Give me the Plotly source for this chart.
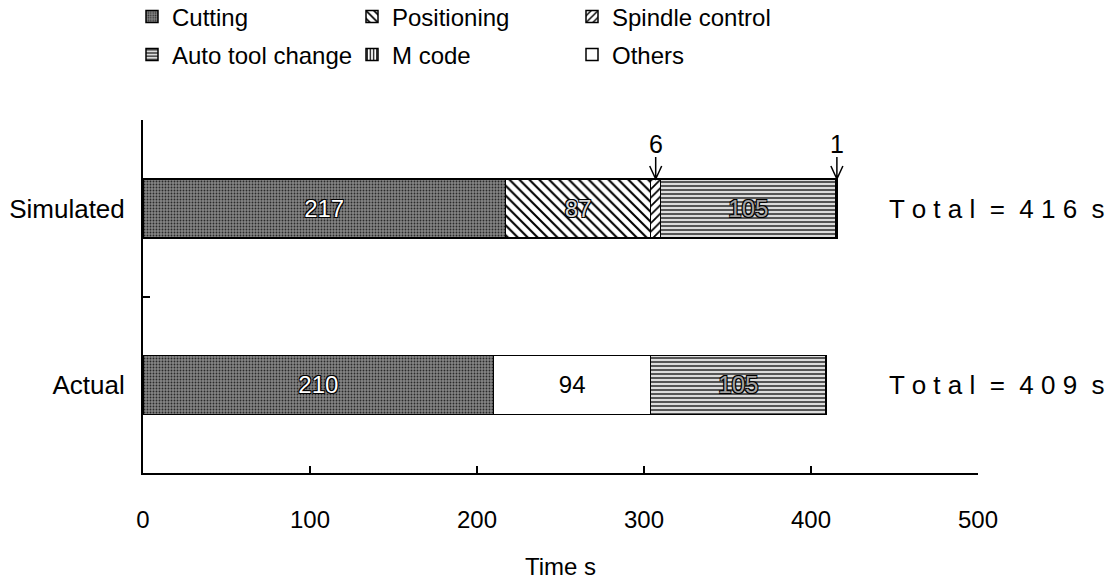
import plotly.graph_objects as go

# Machining time breakdown (seconds) for the simulated and the measured run
cases = ["Actual", "Simulated"]
cutting = [210, 217]
positioning = [0, 87]
spindle_control = [0, 6]
others = [94, 0]
auto_tool_change = [105, 105]
m_code = [0, 1]

FONT = "Liberation Sans, Arial, Helvetica, sans-serif"
BAR_W = 0.335
OUTLINE = dict(color="black", width=1.5)

halo_dark = "1px 1px 0 #000, -1px -1px 0 #000, 1px -1px 0 #000, -1px 1px 0 #000"


def labels(vals, hide=False):
    return ["" if (v == 0 or hide) else str(v) for v in vals]


series = [
    # name, values, bg, fg, shape, size, solidity, text color, text shadow, legend, show text
    ("Cutting", cutting, "#858585", "#2a2a2a", ".", 3, 0.3, "white", halo_dark, "legend", True),
    ("Positioning", positioning, "white", "black", "\\", 7, 0.3, "#d8d8d8", halo_dark, "legend", True),
    ("Spindle control", spindle_control, "white", "black", "/", 6, 0.3, "black", "none", "legend", False),
    ("Others", others, "white", "black", "", 8, 0.3, "black", "none", "legend2", True),
    ("Auto tool change", auto_tool_change, "#dcdcdc", "#555555", "-", 4, 0.5, "#a0a0a0", halo_dark, "legend2", True),
    ("M code", m_code, "white", "black", "|", 4, 0.4, "black", "none", "legend2", False),
]
legend_rank = {"Cutting": 1, "Positioning": 2, "Spindle control": 3,
               "Auto tool change": 4, "M code": 5, "Others": 6}

fig = go.Figure()
for name, vals, bg, fg, shape, size, sol, tcol, tshadow, leg, show_text in series:
    fig.add_trace(go.Bar(
        y=cases, x=vals, orientation="h", name=name, width=BAR_W,
        legend=leg, legendrank=legend_rank[name],
        marker=dict(color=bg, line=OUTLINE,
                    pattern=dict(shape=shape, bgcolor=bg, fgcolor=fg, size=size,
                                 solidity=sol, fillmode="replace")),
        text=labels(vals, hide=not show_text), textposition="inside",
        insidetextanchor="middle", textangle=0, constraintext="none",
        textfont=dict(family=FONT, size=24, color=tcol, shadow=tshadow),
        hoverinfo="x+name",
    ))

# Small segments of the simulated bar are labelled above with arrows
sim_idx = cases.index("Simulated")
bar_top = sim_idx + BAR_W / 2
spindle_mid = cutting[sim_idx] + positioning[sim_idx] + spindle_control[sim_idx] / 2
mcode_mid = (cutting[sim_idx] + positioning[sim_idx] + spindle_control[sim_idx]
             + auto_tool_change[sim_idx] + m_code[sim_idx] / 2)
for xpos, val in [(spindle_mid, spindle_control[sim_idx]), (mcode_mid, m_code[sim_idx])]:
    fig.add_shape(type="path", xref="x", yref="y", xsizemode="pixel", ysizemode="pixel",
                  xanchor=xpos, yanchor=bar_top,
                  path="M0,22 L0,0 M-6,13 L0,0 L6,13",
                  line=dict(color="black", width=1.5))
    fig.add_annotation(x=xpos, y=bar_top, xref="x", yref="y", text=str(val),
                       showarrow=False, yshift=35,
                       font=dict(family=FONT, size=25, color="black"))

# Totals to the right of each bar
for i, case in enumerate(cases):
    total = (cutting[i] + positioning[i] + spindle_control[i] + others[i]
             + auto_tool_change[i] + m_code[i])
    spaced = " ".join("Total") + "  =  " + " ".join(str(total)) + "  s"
    fig.add_annotation(x=1.023, y=case, xref="paper", yref="y", text=spaced,
                       showarrow=False, xanchor="center",
                       font=dict(family=FONT, size=26, color="black"))

W, H = 1111, 581
axis_font = dict(family=FONT, size=24, color="black")
legend_font = dict(family=FONT, size=24, color="black")
legend_common = dict(orientation="h", xref="container", yref="container",
                     x=132 / W, xanchor="left", yanchor="middle", entrywidth=175,
                     font=legend_font, itemclick=False, traceorder="normal")
fig.update_layout(
    barmode="stack",
    width=W, height=H,
    margin=dict(l=143, r=133, t=120, b=108, autoexpand=False),
    paper_bgcolor="white", plot_bgcolor="white",
    font=dict(family=FONT, color="black"),
    showlegend=True,
    legend=dict(legend_common, y=1 - 17 / H),
    legend2=dict(legend_common, y=1 - 55 / H),
    xaxis=dict(range=[0, 500], dtick=100, tick0=0, ticks="inside", ticklen=7,
               tickwidth=2, tickcolor="black", showline=True, linecolor="black",
               linewidth=2, showgrid=False, zeroline=False, tickfont=axis_font,
               ticklabelstandoff=24, automargin=False,
               title=dict(text="Time s", font=axis_font, standoff=26)),
    yaxis=dict(type="category", categoryorder="array", categoryarray=cases,
               range=[-0.5, 1.502], tickson="boundaries", ticks="inside", ticklen=7,
               tickwidth=2, tickcolor="black", showline=True, linecolor="black",
               linewidth=2, showgrid=False, zeroline=False,
               tickfont=dict(family=FONT, size=26, color="black"),
               ticklabelstandoff=11, automargin=False),
)

fig.write_html("out.html")
